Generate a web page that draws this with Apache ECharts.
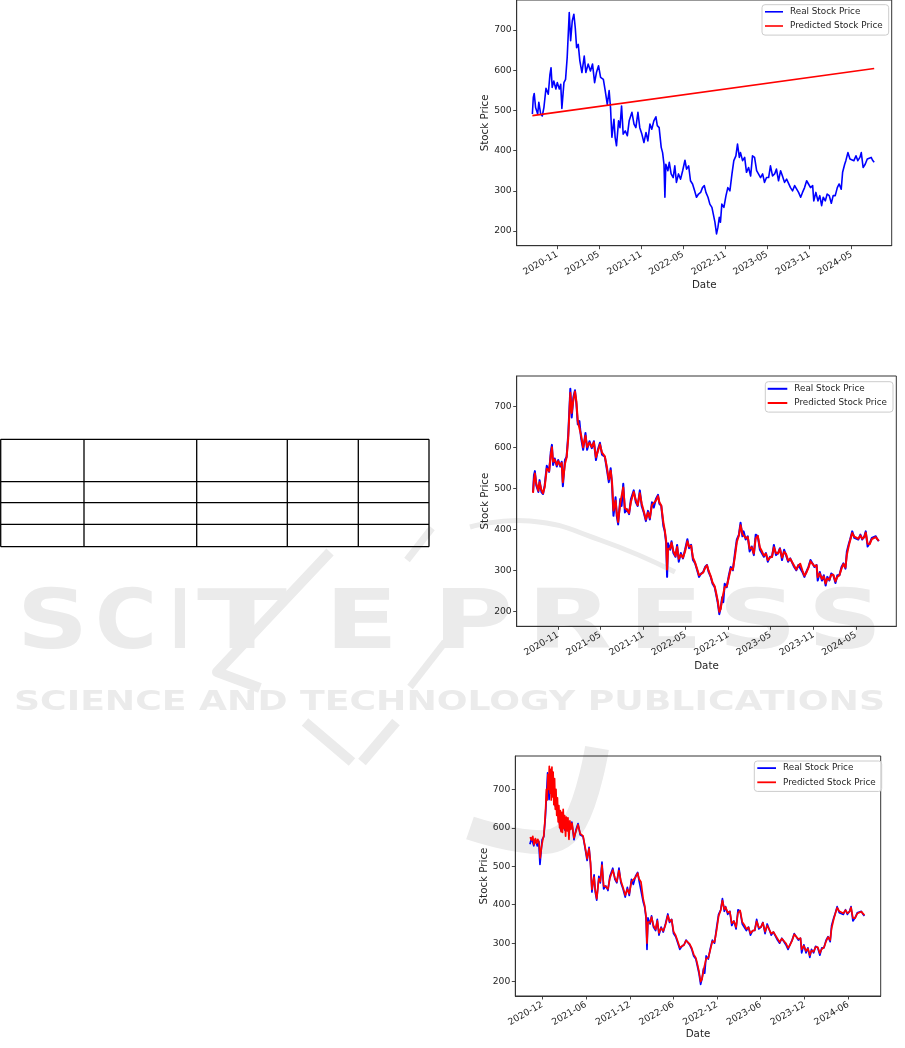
<!DOCTYPE html>
<html><head><meta charset="utf-8">
<script src="https://cdn.jsdelivr.net/npm/echarts@6/dist/echarts.min.js"></script>
<style>html,body{margin:0;padding:0;background:#fff}#c{width:905px;height:1048px}</style>
</head><body><div id="c"></div>
<script>
// ---------------- DATA ----------------
const realDates = ['2020-07-16','2020-07-20','2020-07-24','2020-07-30','2020-08-08','2020-08-13','2020-08-21','2020-08-28','2020-09-04','2020-09-13',
'2020-09-23','2020-09-30','2020-10-05','2020-10-10','2020-10-17','2020-10-26','2020-11-01','2020-11-10','2020-11-16','2020-11-21',
'2020-11-30','2020-12-07','2020-12-14','2020-12-23','2020-12-29','2021-01-05','2021-01-12','2021-01-18','2021-01-24','2021-01-31',
'2021-02-07','2021-02-16','2021-02-26','2021-03-05','2021-03-15','2021-03-25','2021-04-03','2021-04-12','2021-04-20','2021-04-29',
'2021-05-08','2021-05-20','2021-05-28','2021-06-06','2021-06-14','2021-06-20','2021-06-26','2021-07-05','2021-07-10','2021-07-16',
'2021-07-25','2021-07-31','2021-08-07','2021-08-14','2021-08-23','2021-09-01','2021-09-09','2021-09-21','2021-09-30','2021-10-08',
'2021-10-17','2021-10-25','2021-11-03','2021-11-12','2021-11-21','2021-11-29','2021-12-08','2021-12-16','2021-12-25','2022-01-03',
'2022-01-09','2022-01-17','2022-01-26','2022-02-01','2022-02-07','2022-02-11','2022-02-15','2022-02-24','2022-03-02','2022-03-10',
'2022-03-19','2022-03-26','2022-04-02','2022-04-11','2022-04-20','2022-04-29','2022-05-09','2022-05-16','2022-05-25','2022-06-02',
'2022-06-11','2022-06-20','2022-06-28','2022-07-07','2022-07-16','2022-07-24','2022-08-01','2022-08-08','2022-08-17','2022-08-25',
'2022-09-03','2022-09-09','2022-09-16','2022-09-23','2022-09-29','2022-10-05','2022-10-10','2022-10-16','2022-10-25','2022-11-03',
'2022-11-11','2022-11-20','2022-11-29','2022-12-07','2022-12-16','2022-12-23','2022-12-31','2023-01-05','2023-01-14','2023-01-23',
'2023-01-31','2023-02-09','2023-02-18','2023-02-26','2023-03-07','2023-03-16','2023-03-24','2023-04-02','2023-04-11','2023-04-19',
'2023-04-28','2023-05-07','2023-05-15','2023-05-24','2023-06-02','2023-06-10','2023-06-19','2023-06-28','2023-07-06','2023-07-15',
'2023-07-24','2023-08-01','2023-08-10','2023-08-19','2023-08-28','2023-09-05','2023-09-14','2023-09-23','2023-10-01','2023-10-10',
'2023-10-19','2023-10-27','2023-11-05','2023-11-14','2023-11-19','2023-11-28','2023-12-07','2023-12-15','2023-12-23','2023-12-30',
'2024-01-08','2024-01-16','2024-01-25','2024-02-03','2024-02-11','2024-02-20','2024-02-29','2024-03-08','2024-03-17','2024-03-23',
'2024-04-01','2024-04-06','2024-04-15','2024-04-24','2024-05-02','2024-05-11','2024-05-20','2024-05-28','2024-06-06','2024-06-12',
'2024-06-20','2024-06-29','2024-07-08','2024-07-16','2024-07-25','2024-07-31','2024-08-07'];
const realValues = [491,532,542,507,491,520,491,486,507,555, 540,588,606,557,573,553,569,553,565,505,
569,577,631,743,673,722,739,706,656,664, 623,594,635,594,615,598,615,569,594,611,
582,577,549,515,549,507,433,478,433,412,
474,457,511,441,449,437,474,495,466,457, 495,457,441,420,445,424,466,453,474,484,
462,457,408,395,366,284,366,350,371,342, 333,362,321,342,329,350,376,354,362,325,
317,300,284,292,296,308,313,296,284,267, 259,242,222,193,209,234,222,267,259,288,
308,300,342,375,387,416,383,395,375,383, 346,358,337,387,383,350,346,333,342,321,
333,333,362,337,342,354,325,350,337,321, 329,325,308,300,313,317,296,284,296,308,
325,317,308,313,275,296,275,288,263,284, 275,292,288,269,288,288,308,317,304,346,
366,375,395,379,383,375,387,375,383,395, 358,366,379,375,383,376,371];

// chart 1: linear prediction (straight line)
const linearDates = ['2020-07-16','2024-08-07'];
const linearValues = [487, 604];

// chart 2: predicted series on the same dates as the real series
const pred2Values = [489,520,536,512,494,515,496,488,503,548, 542,580,600,565,570,557,566,556,562,515,
560,575,622,733,684,715,736,712,664,662, 630,600,628,601,611,601,612,576,590,607,
587,578,554,522,543,514,446,470,441,418,
464,460,502,452,448,440,467,491,471,459, 488,463,444,424,441,428,459,455,470,481,
466,458,417,398,372,302,352,353,367,347, 335,357,328,338,331,346,371,358,360,331,
319,303,288,291,295,306,312,299,286,270, 261,246,226,199,206,229,225,259,261,283,
304,302,334,369,385,410,389,393,379,381, 353,356,341,378,384,356,347,336,340,325,
331,333,356,342,341,352,331,345,340,324, 328,326,311,302,311,316,300,287,294,306,
322,319,310,312,283,292,279,285,268,280, 277,289,289,273,284,288,304,315,307,338,
362,373,391,382,382,377,385,377,381,392, 365,364,376,376,381,378,372];

// chart 3: real series starts here; predicted series (noisy early part, then later part on real dates)
const chart3Start = '2020-10-10';
const pred3EarlyDates = ['2020-10-11','2020-10-17','2020-10-22','2020-10-27','2020-11-02','2020-11-07','2020-11-12','2020-11-17','2020-11-22','2020-11-27',
'2020-12-02','2020-12-07','2020-12-11','2020-12-15','2020-12-18','2020-12-21','2020-12-24','2020-12-27','2020-12-30','2021-01-02',
'2021-01-05','2021-01-07','2021-01-10','2021-01-12','2021-01-15','2021-01-18','2021-01-21','2021-01-24','2021-01-27','2021-01-30',
'2021-02-02','2021-02-05','2021-02-08','2021-02-11','2021-02-14','2021-02-17','2021-02-20','2021-02-23','2021-02-26','2021-03-01',
'2021-03-04','2021-03-08','2021-03-11','2021-03-15','2021-03-18','2021-03-22','2021-03-26','2021-03-30','2021-04-04','2021-04-12',
'2021-04-20','2021-04-29','2021-05-08','2021-05-20','2021-05-28','2021-06-06','2021-06-14','2021-06-20','2021-06-26','2021-07-05',
'2021-07-10','2021-07-16'];
const pred3EarlyValues = [576,568,578,556,572,560,570,562,522,548, 566,580,612,655,700,672,738,700,760,690,
752,672,758,680,745,660,728,648,700,632, 678,615,658,600,645,590,640,588,648,598,
632,578,628,592,626,570,618,596,612,574, 590,608,585,579,552,520,546,510,440,472, 438,416];
const pred3LateStart = '2021-07-25';
const pred3LateValues = [468,461,503,449,447,441,469,490,470,460, 489,462,445,425,440,429,460,456,471,482,
467,459,416,399,371,300,355,354,368,346, 336,358,327,339,332,347,372,357,361,330,
320,304,289,292,296,307,312,298,287,271, 262,247,227,200,207,230,226,260,262,284,
305,303,335,370,386,411,388,394,380,382, 352,357,342,379,385,355,348,337,341,326,
332,334,357,341,342,353,330,346,341,325, 329,327,312,303,312,317,300,288,295,307,
323,320,311,313,284,293,280,286,269,281, 278,290,290,274,285,289,305,316,308,339,
363,374,392,383,383,378,386,378,382,393, 366,365,377,377,382,379,373];

const yTicks = [200,300,400,500,600,700];
const xTicksA = ['2020-11','2021-05','2021-11','2022-05','2022-11','2023-05','2023-11','2024-05'];
const xTicksB = ['2020-12','2021-06','2021-12','2022-06','2022-12','2023-06','2023-12','2024-06'];
const seriesNames = ['Real Stock Price','Predicted Stock Price'];
const axisNames = {x:'Date', y:'Stock Price'};
const watermarkTitle = 'SCITEPRESS';
const watermarkSub = 'SCIENCE AND TECHNOLOGY PUBLICATIONS';

// ---------------- helpers ----------------
function ts(s){const p=s.split('-').map(Number);return Date.UTC(p[0],p[1]-1,p[2]||1);}
function pairs(d,v){return d.map((x,i)=>[ts(x),v[i]]);}
function fmt(v){const d=new Date(v);return d.getUTCFullYear()+'-'+String(d.getUTCMonth()+1).padStart(2,'0');}
const ctx=document.createElement('canvas').getContext('2d');
function mw(t,font){ctx.font=font;return ctx.measureText(t).width;}

const FONT='"DejaVu Sans", sans-serif';
const TXT='#262626', AX='#333333';

const real3Idx = realDates.indexOf(chart3Start);
const lateIdx = realDates.indexOf(pred3LateStart);
const pred3Dates = pred3EarlyDates.concat(realDates.slice(lateIdx));
const pred3Values = pred3EarlyValues.concat(pred3LateValues);

const grids=[
 {left:516.7, top:-1, width:375, height:246.7},
 {left:516.7, top:376, width:379.6, height:250.3},
 {left:515.3, top:756, width:365.4, height:240}
].map(g=>Object.assign(g,{show:true,borderColor:AX,borderWidth:1,backgroundColor:'transparent',containLabel:false}));

function xAx(i,min,max,ticks,gap){
 const cv=ticks.map(ts);
 return {type:'value',gridIndex:i,min:ts(min),max:ts(max),name:axisNames.x,nameLocation:'middle',nameGap:gap,
  nameTextStyle:{fontSize:10.3,color:TXT,fontFamily:FONT},splitLine:{show:false},
  axisLine:{show:true,lineStyle:{color:AX,width:1}},
  axisTick:{show:true,length:3.5,lineStyle:{color:AX,width:0.9},customValues:cv},
  axisLabel:{customValues:cv,formatter:fmt,rotate:30,fontSize:9.2,color:TXT,fontFamily:FONT,margin:8,hideOverlap:false}};
}
function yAx(i,min,max){
 return {type:'value',gridIndex:i,min:min,max:max,name:axisNames.y,nameLocation:'middle',nameGap:23,
  nameTextStyle:{fontSize:10.3,color:TXT,fontFamily:FONT},splitLine:{show:false},
  axisLine:{show:true,lineStyle:{color:AX,width:1}},
  axisTick:{show:true,length:3.5,lineStyle:{color:AX,width:0.9},customValues:yTicks},
  axisLabel:{customValues:yTicks,fontSize:9.2,color:TXT,fontFamily:FONT,margin:5}};
}
function line(name,i,data,color,w){
 return {name:name,type:'line',xAxisIndex:i,yAxisIndex:i,data:data,showSymbol:false,symbol:'none',z:3,
  lineStyle:{color:color,width:w,join:'round'},itemStyle:{color:color},animation:false,silent:true};
}
function legend(left,top,pad,iw,ih){
 return {left:left,top:top,orient:'vertical',icon:'rect',itemWidth:iw,itemHeight:ih,itemGap:4,padding:pad,
  backgroundColor:'rgba(255,255,255,0.8)',borderColor:'#cccccc',borderWidth:1,borderRadius:3,selectedMode:false,
  textStyle:{fontSize:8.8,fontFamily:FONT,color:TXT,lineHeight:10.2,padding:[0,0,0,2]},data:seriesNames};
}

// ---------------- decorations (table + watermark) ----------------
const WM='#ebebeb';
const gfx=[];
const letterBoxes=[[17,88],[95,157],[170,190],[197,287],[325,398],[433,513],[527,612],[628,703],[718,797],[808,882]];
const bigFont='bold 82px "DejaVu Sans"';
watermarkTitle.split('').forEach((ch,i)=>{
 const w=mw(ch,bigFont); const b=letterBoxes[i];
 gfx.push({type:'text',x:b[0],y:627,scaleX:(b[1]-b[0])/w,z:-5,silent:true,
  style:{text:ch,font:bigFont,fill:WM,align:'left',verticalAlign:'middle'}});
});
const subFont='bold 26px "DejaVu Sans"';
gfx.push({type:'text',x:14,y:703,scaleX:871/mw(watermarkSub,subFont),z:-5,silent:true,
 style:{text:watermarkSub,font:subFont,fill:WM,align:'left',verticalAlign:'middle'}});
const wmStroke=(pts,w,sm)=>({type:'polyline',z:-5,silent:true,shape:{points:pts,smooth:sm||0},style:{stroke:WM,lineWidth:w,fill:null,lineCap:'butt',lineJoin:'round'}});
gfx.push(wmStroke([[330,552],[217,672],[260,688]],10));
gfx.push(wmStroke([[432,528],[407,560]],7));
gfx.push(wmStroke([[445,642],[410,687]],7));
gfx.push(wmStroke([[470,527],[530,521],[600,540],[675,572]],5,0.5));
gfx.push(wmStroke([[305,722],[352,762]],10));
gfx.push(wmStroke([[396,722],[362,762]],10));
gfx.push(wmStroke([[470,828],[545,842],[575,822],[597,748]],24,0.4));

const tblX=[0.7,84,196.7,287.3,358.3,429];
const tblY=[439.3,481.7,502.7,524.3,546.7];
tblY.forEach(y=>gfx.push({type:'line',z:5,silent:true,shape:{x1:tblX[0],y1:y,x2:tblX[5],y2:y},style:{stroke:'#000',lineWidth:1.3}}));
tblX.forEach(x=>gfx.push({type:'line',z:5,silent:true,shape:{x1:x,y1:tblY[0],x2:x,y2:tblY[4]},style:{stroke:'#000',lineWidth:1.3}}));

// ---------------- chart ----------------
const chart=echarts.init(document.getElementById('c'),null,{renderer:'canvas',width:905,height:1048});
chart.setOption({
 animation:false,
 textStyle:{fontFamily:FONT},
 graphic:{elements:gfx},
 grid:grids,
 xAxis:[xAx(0,'2020-05-09','2024-10-22',xTicksA,35),xAx(1,'2020-05-07','2024-10-21',xTicksA,35),xAx(2,'2020-08-10','2024-10-14',xTicksB,33)],
 yAxis:[yAx(0,163.6,774.3),yAx(1,163.4,774),yAx(2,162.8,786.6)],
 legend:[legend(762,4.7,[2,6,4,3],18,1.6),legend(765.3,381.7,[2,6,4,2.4],19.6,2),legend(754.3,761,[2,6,4,3],18.7,1.8)],
 series:[
  line(seriesNames[0],0,pairs(realDates,realValues),'#0000ff',1.6),
  line(seriesNames[1],0,pairs(linearDates,linearValues),'#ff0000',1.6),
  line(seriesNames[0],1,pairs(realDates,realValues),'#0000ff',2),
  line(seriesNames[1],1,pairs(realDates,pred2Values),'#ff0000',2),
  line(seriesNames[0],2,pairs(realDates.slice(real3Idx),realValues.slice(real3Idx)),'#0000ff',1.7),
  line(seriesNames[1],2,pairs(pred3Dates,pred3Values),'#ff0000',1.7)
 ]
});
</script></body></html>
